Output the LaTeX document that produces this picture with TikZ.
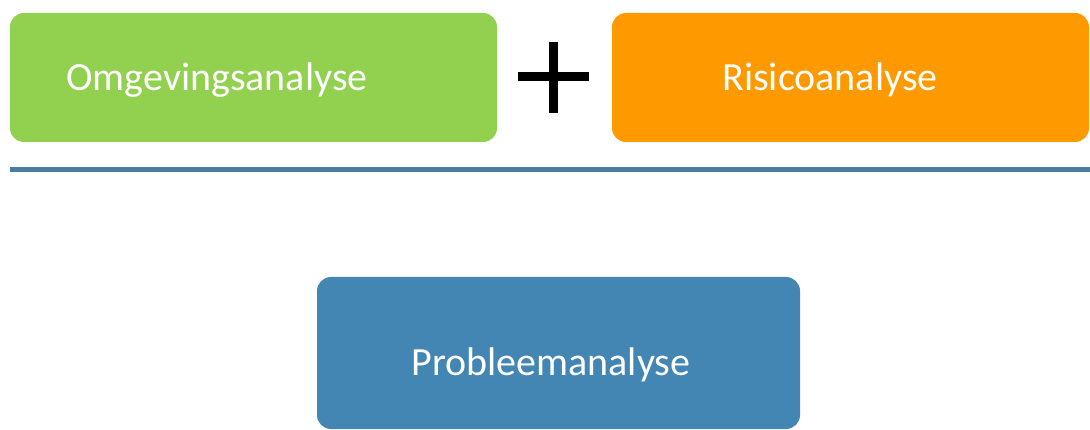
\documentclass[tikz,border=0pt]{standalone}
\usepackage{fontspec}
\setmainfont{Carlito}
\definecolor{omggreen}{HTML}{92D050}
\definecolor{risorange}{HTML}{FF9900}
\definecolor{problblue}{HTML}{4386B4}
\definecolor{splitblue}{HTML}{4A7EA0}
\tikzset{
  box/.style={rounded corners=14pt,inner sep=0pt},
  boxtext/.style={anchor=base,text=white,inner sep=0pt,font=\fontsize{40}{48}\selectfont}
}
\begin{document}
\begin{tikzpicture}[x=1pt,y=-1pt]
\useasboundingbox (0,0) rectangle (1090,430);
\node[box,fill=omggreen,minimum width=487pt,minimum height=129pt] (omg) at (253.5,77.5) {};
\node[box,fill=risorange,minimum width=477pt,minimum height=129pt] (ris) at (850.5,77.5) {};
\node[box,fill=problblue,minimum width=483pt,minimum height=152pt] (prob) at (558.5,353) {};
\node[boxtext] (omgtext) at (217,91) {Omgevingsanalyse};
\node[boxtext] (ristext) at (830,91) {Risicoanalyse};
\node[boxtext] (probtext) at (551,375) {Probleemanalyse};
% plus between the two analyses
\draw[line width=9pt] (518,77) -- (589,77);
\draw[line width=9pt] (553.5,42) -- (553.5,113);
% separating line
\draw[color=splitblue,line width=5pt] (10,169.5) -- (1090,169.5);
\end{tikzpicture}
\end{document}
